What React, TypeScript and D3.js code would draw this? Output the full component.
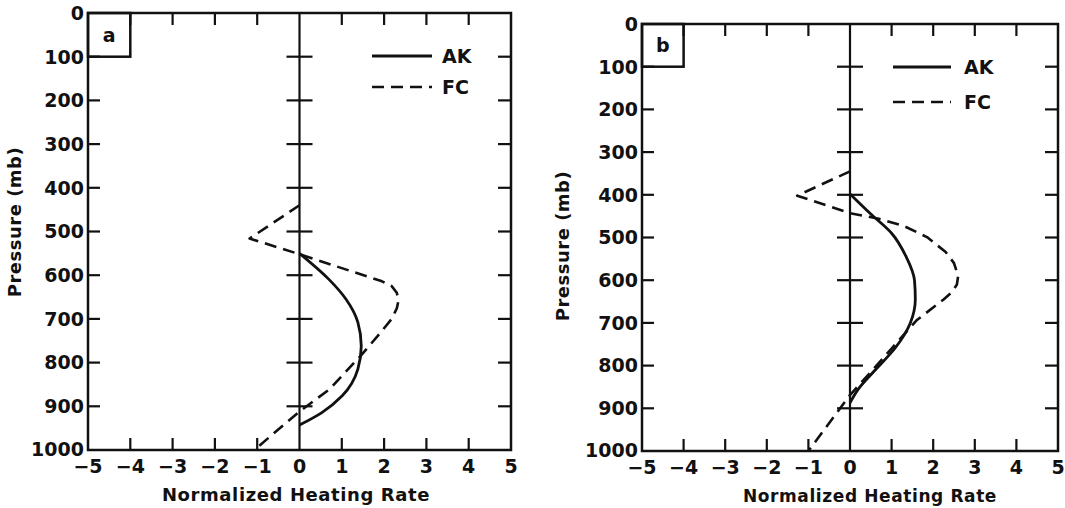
import React from 'react'
import * as d3 from 'd3'

// pressure levels (mb) and heating-rate ticks
const pressureTicks = [0, 100, 200, 300, 400, 500, 600, 700, 800, 900, 1000]
const rateTicks = [-5, -4, -3, -2, -1, 0, 1, 2, 3, 4, 5]
const rateLabels = ['−5', '−4', '−3', '−2', '−1', '0', '1', '2', '3', '4', '5']

// panel a  [rate, pressure]
const akA: [number, number][] = [
  [0, 550], [0.69, 609], [1.1, 655], [1.38, 708], [1.46, 762],
  [1.38, 815], [1.01, 876], [0.52, 915], [0, 943],
]
const fcA: [number, number][] = [
  [0, 440], [-1.18, 516], [0, 552], [1.95, 614], [2.18, 625], [2.3, 640],
  [2.34, 658], [2.3, 676], [2.18, 700], [1.85, 739], [1.44, 785],
  [0.71, 861], [0, 912], [-1.07, 1000],
]

// panel b
const akB: [number, number][] = [
  [0, 398], [0.5, 445], [1.0, 490], [1.35, 545], [1.55, 600], [1.57, 645],
  [1.45, 700], [1.1, 757], [0.6, 811], [0.2, 855], [0, 887],
]
const fcB: [number, number][] = [
  [0, 345], [-1.27, 402], [0, 443], [0.69, 456], [1.27, 472], [1.85, 499],
  [2.3, 534], [2.5, 560], [2.6, 590], [2.57, 610], [2.45, 628], [2.25, 645],
  [1.6, 694], [1.0, 760], [0.5, 815], [0, 869], [-1.0, 1000],
]

const ink = '#111'
const font = 'DejaVu Sans, sans-serif'

type PanelProps = {
  x0: number; x1: number; y0: number; y1: number
  letter: string
  ak: [number, number][]
  fc: [number, number][]
  legend: { lx1: number; lx2: number; yAK: number; yFC: number; tx: number }
  yTitle: { x: number; y: number }
  xTitle: { x: number; size: number }
}

const Panel = ({ x0, x1, y0, y1, letter, ak, fc, legend, yTitle, xTitle }: PanelProps) => {
  const x = d3.scaleLinear().domain([-5, 5]).range([x0, x1])
  const y = d3.scaleLinear().domain([0, 1000]).range([y0, y1])
  const tk = 12

  const akLine = d3.line<[number, number]>()
    .x((d) => x(d[0]))
    .y((d) => y(d[1]))
    .curve(d3.curveMonotoneY)
  const fcLine = d3.line<[number, number]>()
    .x((d) => x(d[0]))
    .y((d) => y(d[1]))

  return (
    <g>
      {/* frame */}
      <rect x={x0} y={y0} width={x1 - x0} height={y1 - y0} fill="none" stroke={ink} strokeWidth={2.5} />
      {/* zero line */}
      <line x1={x(0)} x2={x(0)} y1={y0} y2={y1} stroke={ink} strokeWidth={2.2} />

      {/* x ticks top and bottom */}
      {rateTicks.filter((t) => t > -5 && t < 5 && t !== 0).map((t) => (
        <g key={'xt' + t}>
          <line x1={x(t)} x2={x(t)} y1={y0} y2={y0 + tk} stroke={ink} strokeWidth={2.2} />
          <line x1={x(t)} x2={x(t)} y1={y1} y2={y1 - tk} stroke={ink} strokeWidth={2.2} />
        </g>
      ))}
      {/* y ticks left, right, and across zero line */}
      {pressureTicks.filter((p) => p > 0 && p < 1000).map((p) => (
        <g key={'yt' + p}>
          <line x1={x0} x2={x0 + tk} y1={y(p)} y2={y(p)} stroke={ink} strokeWidth={2.2} />
          <line x1={x1} x2={x1 - tk - 1} y1={y(p)} y2={y(p)} stroke={ink} strokeWidth={2.2} />
          <line x1={x(0) - tk - 1} x2={x(0) + tk + 1} y1={y(p)} y2={y(p)} stroke={ink} strokeWidth={2.2} />
        </g>
      ))}

      {/* panel letter box */}
      <rect x={x(-5)} y={y(0)} width={x(-4) - x(-5)} height={y(100) - y(0)} fill="none" stroke={ink} strokeWidth={2.5} />
      <text x={(x(-5) + x(-4)) / 2} y={(y(0) + y(100)) / 2} dy="0.35em" textAnchor="middle"
        fontFamily={font} fontSize={19} fontWeight="bold" fill={ink}>{letter}</text>

      {/* tick labels */}
      {pressureTicks.map((p) => (
        <text key={'yl' + p} x={x0 - 4} y={p === 1000 ? y(p) - 1 : y(p)} dy="0.36em" textAnchor="end"
          fontFamily={font} fontSize={19} fontWeight="bold" fill={ink}>{p}</text>
      ))}
      {rateTicks.map((t, i) => (
        <text key={'xl' + t} x={x(t)} y={y1 + 23} textAnchor="middle"
          fontFamily={font} fontSize={19} fontWeight="bold" fill={ink}>{rateLabels[i]}</text>
      ))}

      {/* axis titles */}
      <text x={xTitle.x} y={y1 + 51} textAnchor="middle" fontFamily={font} fontSize={xTitle.size}
        fontWeight="bold" letterSpacing={0.6} fill={ink}>Normalized Heating Rate</text>
      <text transform={`translate(${yTitle.x},${yTitle.y}) rotate(-90)`} dy="0.35em" textAnchor="middle"
        fontFamily={font} fontSize={18} fontWeight="bold" letterSpacing={0.5} fill={ink}>Pressure (mb)</text>

      {/* curves */}
      <path d={akLine(ak) ?? ''} fill="none" stroke={ink} strokeWidth={2.8} />
      <path d={fcLine(fc) ?? ''} fill="none" stroke={ink} strokeWidth={2.6} strokeDasharray="12,7" strokeLinejoin="round" />

      {/* legend */}
      <line x1={legend.lx1} x2={legend.lx2} y1={legend.yAK} y2={legend.yAK} stroke={ink} strokeWidth={2.8} />
      <line x1={legend.lx1} x2={legend.lx2} y1={legend.yFC} y2={legend.yFC} stroke={ink} strokeWidth={2.6} strokeDasharray="12,7" />
      <text x={legend.tx} y={legend.yAK} dy="0.36em" fontFamily={font} fontSize={19} fontWeight="bold" fill={ink}>AK</text>
      <text x={legend.tx} y={legend.yFC} dy="0.36em" fontFamily={font} fontSize={19} fontWeight="bold" fill={ink}>FC</text>
    </g>
  )
}

export default function App() {
  return (
    <svg width={1065} height={508} style={{ position: 'absolute', left: 0, top: 0, background: '#fff' }}>
      <Panel x0={88} x1={511} y0={13} y1={450} letter="a" ak={akA} fc={fcA}
        legend={{ lx1: 372, lx2: 432, yAK: 56, yFC: 87, tx: 442 }}
        yTitle={{ x: 15, y: 222 }} xTitle={{ x: 296, size: 18 }} />
      <Panel x0={642} x1={1058} y0={24} y1={451} letter="b" ak={akB} fc={fcB}
        legend={{ lx1: 893, lx2: 951, yAK: 67, yFC: 102, tx: 964 }}
        yTitle={{ x: 563, y: 246 }} xTitle={{ x: 870, size: 17 }} />
    </svg>
  )
}
